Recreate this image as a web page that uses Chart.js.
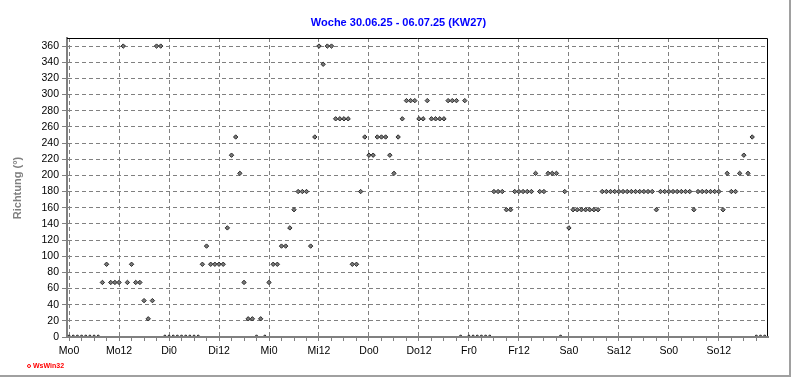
<!DOCTYPE html>
<html>
<head>
<meta charset="utf-8">
<script src="https://cdn.jsdelivr.net/npm/chart.js@4.4.1/dist/chart.umd.min.js"></script>
<style>
body { margin: 0; background: #fff; }
#wrap { position: relative; width: 792px; height: 387px; overflow: hidden; font-family: Arial, "Liberation Sans", sans-serif; }
#frame { position: absolute; left: 0; top: 0; width: 789px; height: 375px; border-right: 2px solid #a0a0a0; border-bottom: 2px solid #a0a0a0; }
#chart { position: absolute; left: 0; top: 0; }
#title { position: absolute; left: 0; width: 797px; top: 16px; line-height: 13px; text-align: center; font-weight: bold; font-size: 11px; color: #0000ff; }
#ylabel { position: absolute; left: 17px; top: 188px; transform: translate(-50%, -50%) rotate(-90deg); white-space: nowrap; font-weight: bold; font-size: 11px; color: #808080; }
#brand { position: absolute; left: 27px; top: 362px; font-size: 7px; font-weight: bold; color: #ff0000; white-space: nowrap; }
#brand span { display: inline-block; width: 2px; height: 2px; border: 1px solid #ff0000; border-radius: 50%; margin-right: 2px; vertical-align: middle; }
</style>
</head>
<body>
<div id="wrap">
    <canvas id="chart" width="792" height="387"></canvas>
    <div id="frame"></div>
    <div id="title">Woche 30.06.25 - 06.07.25 (KW27)</div>
    <div id="ylabel">Richtung (°)</div>
    <div id="brand"><span></span>WsWin32</div>
</div>
<script>
// hourly labels every 12 h
const hourLabels = ['Mo0', 'Mo12', 'Di0', 'Di12', 'Mi0', 'Mi12', 'Do0', 'Do12', 'Fr0', 'Fr12', 'Sa0', 'Sa12', 'So0', 'So12'];
const yTicks = [0, 20, 40, 60, 80, 100, 120, 140, 160, 180, 200, 220, 240, 260, 280, 300, 320, 340, 360];
const hourTicks = [];
for (let h = 0; h <= 165; h += 3) hourTicks.push(h);

// wind direction, one value per hour (0 = calm)
const direction = [
    0, 0, 0, 0, 0, 0, 0, 0,
    67.5, 90, 67.5, 67.5, 67.5, 360, 67.5, 90, 67.5, 67.5, 45, 22.5, 45, 360, 360,
    0, 0, 0, 0, 0, 0, 0, 0, 0,
    90, 112.5, 90, 90, 90, 90, 135, 225, 247.5, 202.5, 67.5, 22.5, 22.5, 0, 22.5, 0,
    67.5, 90, 90, 112.5, 112.5, 135, 157.5, 180, 180, 180, 112.5, 247.5, 360, 337.5, 360, 360,
    270, 270, 270, 270, 90, 90, 180, 247.5, 225, 225, 247.5, 247.5, 247.5, 225, 202.5, 247.5,
    270, 292.5, 292.5, 292.5, 270, 270, 292.5, 270, 270, 270, 270, 292.5, 292.5, 292.5, 0, 292.5,
    0, 0, 0, 0, 0, 0, 180, 180, 180, 157.5, 157.5, 180, 180, 180, 180, 180,
    202.5, 180, 180, 202.5, 202.5, 202.5, 0, 180, 135, 157.5, 157.5, 157.5, 157.5, 157.5, 157.5, 157.5,
    180, 180, 180, 180, 180, 180, 180, 180, 180, 180, 180, 180, 180, 157.5, 180, 180,
    180, 180, 180, 180, 180, 180, 157.5, 180, 180, 180, 180, 180, 180, 157.5, 202.5, 180,
    180, 202.5, 225, 202.5, 247.5, 0, 0, 0
];

const points = direction.map((v, i) => ({ x: i, y: v }));

const frameLines = {
    id: 'frameLines',
    afterDatasetsDraw(chart) {
        const a = chart.chartArea;
        const ctx = chart.ctx;
        ctx.save();
        ctx.strokeStyle = '#000';
        ctx.lineWidth = 1;
        ctx.beginPath();
        ctx.moveTo(a.left, a.top + 0.5);
        ctx.lineTo(a.right - 0.5, a.top + 0.5);
        ctx.lineTo(a.right - 0.5, a.bottom);
        ctx.stroke();
        ctx.restore();
    }
};

new Chart(document.getElementById('chart'), {
    type: 'scatter',
    data: {
        datasets: [{
            data: points,
            pointStyle: 'rectRot',
            pointRadius: 2.2,
            backgroundColor: '#7a7a7a',
            borderColor: '#2a2a2a',
            borderWidth: 1,
            clip: 0
        }]
    },
    options: {
        responsive: false,
        animation: false,
        devicePixelRatio: 1,
        layout: { padding: { top: 38, right: 24, left: 0, bottom: 0 } },
        plugins: {
            legend: { display: false },
            tooltip: { enabled: false }
        },
        scales: {
            x: {
                type: 'linear',
                min: -0.5,
                max: 167.8,
                afterBuildTicks: scale => { scale.ticks = hourTicks.map(v => ({ value: v })); },
                afterFit: scale => { scale.height = 50; },
                grid: {
                    color: ctx => (ctx.tick && ctx.tick.value % 12 === 0) ? '#808080' : 'rgba(0,0,0,0)',
                    tickColor: '#808080',
                    tickLength: 4
                },
                border: { color: '#808080', width: 2, dash: [4, 3], z: 1 },
                ticks: {
                    autoSkip: false,
                    maxRotation: 0,
                    padding: 4,
                    color: '#000',
                    font: { family: 'Arial, "Liberation Sans"', size: 10.5 },
                    callback: v => v % 12 === 0 ? hourLabels[v / 12] : ''
                }
            },
            y: {
                min: 0,
                max: 370,
                afterBuildTicks: scale => { scale.ticks = yTicks.map(v => ({ value: v })); },
                afterFit: scale => { scale.width = 67; },
                grid: { color: '#808080', tickColor: '#808080', tickLength: 5 },
                border: { color: '#808080', width: 2, dash: [4, 3] },
                ticks: {
                    padding: 3,
                    color: '#000',
                    font: { family: 'Arial, "Liberation Sans"', size: 10.5 }
                }
            }
        }
    },
    plugins: [frameLines]
});
</script>
</body>
</html>
